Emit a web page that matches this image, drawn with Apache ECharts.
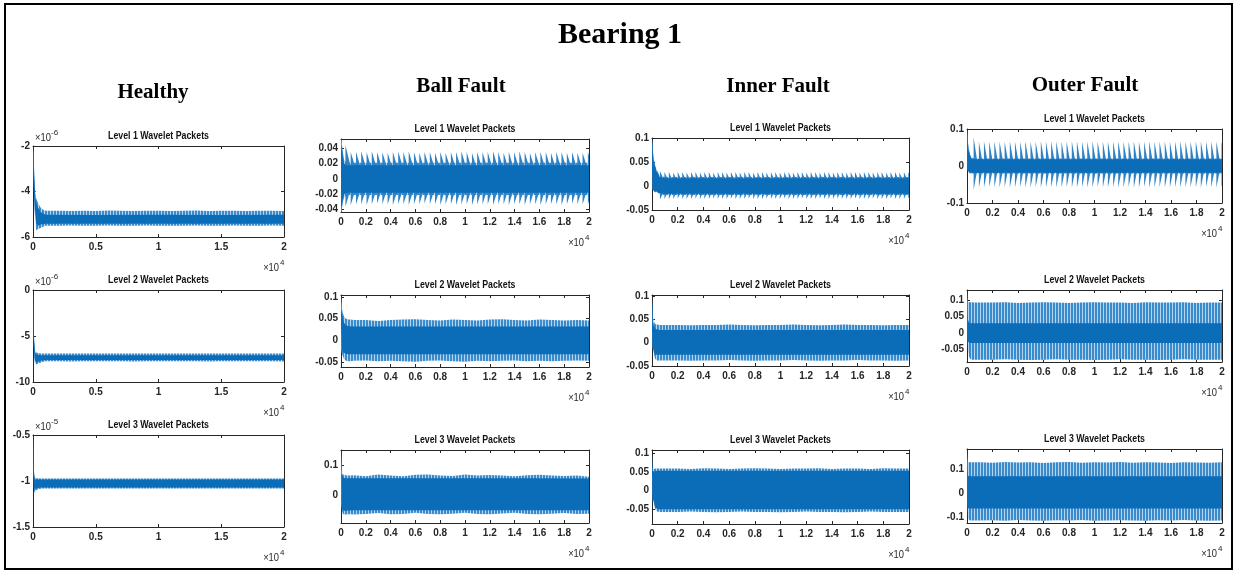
<!DOCTYPE html>
<html>
<head>
<meta charset="utf-8">
<script src="https://cdn.jsdelivr.net/npm/echarts@6/dist/echarts.min.js"></script>
<style>
  html, body { margin: 0; padding: 0; background: #fff; }
  #chart { width: 1237px; height: 574px; }
</style>
</head>
<body>
<div id="chart"></div>
<script>
// ---- sample positions (x in units of 10^4 samples) ----
const xsFringe = [0, 0.004, 0.008, 0.015, 0.025, 0.04, 0.06, 0.08, 0.1, 0.2, 0.3, 0.4, 0.5, 0.6, 0.7, 0.8, 0.9, 1, 1.1, 1.2, 1.3, 1.4, 1.5, 1.6, 1.7, 1.8, 1.9, 2];
const xsCore = [0, 0.004, 0.008, 0.015, 0.025, 0.04, 0.06, 0.1, 0.5, 1, 1.5, 2];

// ---- tick values ----
const xTicksHealthy = [0, 0.5, 1, 1.5, 2];
const xTicksFault = [0, 0.2, 0.4, 0.6, 0.8, 1, 1.2, 1.4, 1.6, 1.8, 2];

// ---- Healthy (y in units of 10^-6 / 10^-5) ----
const healthy1FringeHi = [-2.05,-2.3,-2.9,-3.8,-4.3,-4.5,-4.7,-4.8,-4.85,-4.85,-4.86,-4.85,-4.86,-4.84,-4.85,-4.86,-4.85,-4.85,-4.86,-4.85,-4.84,-4.86,-4.85,-4.85,-4.86,-4.85,-4.85,-4.86];
const healthy1FringeLo = [-2.3,-3.2,-4.2,-5.0,-5.7,-5.65,-5.6,-5.55,-5.5,-5.5,-5.49,-5.5,-5.5,-5.49,-5.5,-5.5,-5.49,-5.5,-5.5,-5.5,-5.49,-5.5,-5.5,-5.49,-5.5,-5.5,-5.49,-5.5];
const healthy1CoreHi = [-2.1,-2.5,-3.2,-4.0,-4.5,-4.7,-4.9,-5.02,-5.03,-5.02,-5.03,-5.02];
const healthy1CoreLo = [-2.2,-3.0,-4.0,-4.8,-5.4,-5.5,-5.45,-5.42,-5.42,-5.42,-5.42,-5.42];

const healthy2FringeHi = [0,-2.5,-5.0,-6.5,-6.8,-6.85,-6.9,-6.9,-6.9,-6.9,-6.91,-6.9,-6.9,-6.89,-6.9,-6.9,-6.91,-6.9,-6.9,-6.9,-6.89,-6.9,-6.9,-6.91,-6.9,-6.9,-6.9,-6.89];
const healthy2FringeLo = [-1.0,-4.5,-6.8,-7.9,-8.1,-8.0,-7.9,-7.8,-7.75,-7.75,-7.76,-7.75,-7.75,-7.74,-7.75,-7.76,-7.75,-7.75,-7.74,-7.75,-7.75,-7.76,-7.75,-7.75,-7.74,-7.75,-7.75,-7.76];
const healthy2CoreHi = [-0.3,-3.0,-5.5,-6.7,-7.0,-7.05,-7.1,-7.1,-7.1,-7.1,-7.1,-7.1];
const healthy2CoreLo = [-0.8,-4.0,-6.5,-7.6,-7.9,-7.8,-7.7,-7.62,-7.6,-7.6,-7.6,-7.6];

const healthy3FringeHi = [-0.5,-0.7,-0.9,-0.96,-0.97,-0.97,-0.972,-0.972,-0.972,-0.972,-0.973,-0.972,-0.972,-0.973,-0.972,-0.972,-0.972,-0.973,-0.972,-0.972,-0.973,-0.972,-0.972,-0.972,-0.973,-0.972,-0.972,-0.973];
const healthy3FringeLo = [-0.6,-0.9,-1.1,-1.13,-1.1,-1.09,-1.085,-1.082,-1.082,-1.082,-1.081,-1.082,-1.082,-1.081,-1.082,-1.082,-1.082,-1.081,-1.082,-1.082,-1.081,-1.082,-1.082,-1.082,-1.081,-1.082,-1.082,-1.081];
const healthy3CoreHi = [-0.52,-0.75,-0.95,-0.98,-0.985,-0.985,-0.985,-0.985,-0.985,-0.985,-0.985,-0.985];
const healthy3CoreLo = [-0.58,-0.85,-1.05,-1.1,-1.08,-1.075,-1.07,-1.07,-1.07,-1.07,-1.07,-1.07];

// ---- Ball Fault ----
const ball1FringeHi = [0.052,0.05,0.045,0.035,0.025,0.022,0.021,0.021,0.021,0.021,0.021,0.021,0.021,0.021,0.021,0.021,0.021,0.021,0.021,0.021,0.021,0.021,0.021,0.021,0.021,0.021,0.021,0.021];
const ball1FringeLo = [-0.043,-0.042,-0.038,-0.03,-0.024,-0.022,-0.021,-0.021,-0.021,-0.021,-0.021,-0.021,-0.021,-0.021,-0.021,-0.021,-0.021,-0.021,-0.021,-0.021,-0.021,-0.021,-0.021,-0.021,-0.021,-0.021,-0.021,-0.021];
const ball1CoreHi = [0.05,0.045,0.038,0.027,0.02,0.018,0.018,0.018,0.018,0.018,0.018,0.018];
const ball1CoreLo = [-0.042,-0.04,-0.034,-0.025,-0.02,-0.018,-0.018,-0.018,-0.018,-0.018,-0.018,-0.018];
// impulses: [position, peak, trough]
const ball1Spikes = [[0.036,0.044,-0.036],[0.078,0.035,-0.034],[0.121,0.035,-0.033],[0.163,0.036,-0.033],[0.206,0.035,-0.034],[0.248,0.036,-0.033],[0.291,0.035,-0.032],[0.333,0.035,-0.033],[0.376,0.034,-0.033],[0.418,0.035,-0.034],[0.461,0.036,-0.033],[0.503,0.035,-0.033],[0.546,0.036,-0.034],[0.588,0.035,-0.033],[0.631,0.034,-0.033],[0.673,0.035,-0.032],[0.716,0.035,-0.033],[0.758,0.034,-0.033],[0.801,0.035,-0.034],[0.843,0.034,-0.033],[0.886,0.035,-0.033],[0.928,0.035,-0.034],[0.971,0.036,-0.033],[1.013,0.035,-0.033],[1.056,0.034,-0.034],[1.098,0.035,-0.033],[1.141,0.035,-0.033],[1.183,0.035,-0.033],[1.226,0.036,-0.034],[1.268,0.035,-0.033],[1.311,0.034,-0.033],[1.353,0.035,-0.034],[1.396,0.035,-0.033],[1.438,0.036,-0.033],[1.481,0.035,-0.034],[1.523,0.034,-0.033],[1.566,0.035,-0.033],[1.608,0.035,-0.034],[1.651,0.035,-0.033],[1.693,0.034,-0.033],[1.736,0.035,-0.033],[1.778,0.035,-0.034],[1.821,0.034,-0.033],[1.863,0.035,-0.032],[1.906,0.034,-0.033],[1.948,0.034,-0.033],[1.991,0.035,-0.033]];

const ball2FringeHi = [0.1,0.085,0.072,0.062,0.055,0.05,0.048,0.048,0.047,0.047,0.045,0.047,0.048,0.049,0.047,0.046,0.048,0.047,0.046,0.048,0.049,0.047,0.046,0.048,0.047,0.046,0.047,0.046];
const ball2FringeLo = [0.02,-0.02,-0.03,-0.035,-0.042,-0.046,-0.047,-0.047,-0.046,-0.045,-0.047,-0.046,-0.047,-0.048,-0.046,-0.045,-0.047,-0.048,-0.046,-0.047,-0.046,-0.045,-0.047,-0.046,-0.047,-0.046,-0.045,-0.046];
const ball2CoreHi = [0.095,0.075,0.062,0.05,0.04,0.035,0.033,0.032,0.032,0.032,0.032,0.032];
const ball2CoreLo = [0.03,-0.01,-0.02,-0.025,-0.028,-0.03,-0.031,-0.031,-0.031,-0.031,-0.031,-0.031];

const ball3FringeHi = [0.154,0.09,0.075,0.07,0.068,0.067,0.066,0.066,0.067,0.064,0.07,0.066,0.064,0.069,0.07,0.066,0.065,0.07,0.066,0.068,0.066,0.064,0.067,0.069,0.066,0.065,0.066,0.062];
const ball3FringeLo = [0.1,-0.03,-0.055,-0.065,-0.068,-0.068,-0.067,-0.067,-0.068,-0.066,-0.063,-0.067,-0.066,-0.062,-0.066,-0.067,-0.065,-0.062,-0.066,-0.067,-0.064,-0.062,-0.066,-0.067,-0.065,-0.063,-0.066,-0.065];
const ball3CoreHi = [0.14,0.08,0.065,0.06,0.058,0.057,0.057,0.057,0.057,0.057,0.057,0.056];
const ball3CoreLo = [0.11,-0.02,-0.045,-0.053,-0.055,-0.055,-0.054,-0.053,-0.053,-0.053,-0.053,-0.053];

// ---- Inner Fault ----
const inner1FringeHi = [0.1,0.088,0.075,0.055,0.042,0.032,0.022,0.02,0.019,0.019,0.019,0.019,0.019,0.019,0.019,0.019,0.019,0.019,0.019,0.019,0.019,0.019,0.019,0.019,0.019,0.019,0.019,0.019];
const inner1FringeLo = [0.05,-0.005,-0.01,-0.012,-0.013,-0.013,-0.017,-0.019,-0.019,-0.019,-0.019,-0.019,-0.019,-0.019,-0.019,-0.019,-0.019,-0.019,-0.019,-0.019,-0.019,-0.019,-0.019,-0.019,-0.019,-0.019,-0.019,-0.019];
const inner1CoreHi = [0.09,0.08,0.068,0.05,0.038,0.028,0.018,0.016,0.016,0.016,0.016,0.016];
const inner1CoreLo = [0.06,-0.003,-0.008,-0.01,-0.011,-0.012,-0.015,-0.016,-0.016,-0.016,-0.016,-0.016];
const inner1Spikes = [[0.062,0.031,-0.028],[0.097,0.029,-0.027],[0.131,0.029,-0.027],[0.166,0.028,-0.027],[0.2,0.029,-0.026],[0.235,0.029,-0.027],[0.269,0.028,-0.027],[0.304,0.029,-0.027],[0.338,0.029,-0.026],[0.373,0.028,-0.027],[0.407,0.029,-0.027],[0.442,0.029,-0.027],[0.476,0.028,-0.026],[0.511,0.029,-0.027],[0.545,0.029,-0.027],[0.58,0.028,-0.027],[0.614,0.029,-0.026],[0.649,0.029,-0.027],[0.683,0.028,-0.027],[0.718,0.029,-0.027],[0.752,0.029,-0.026],[0.787,0.028,-0.027],[0.821,0.029,-0.027],[0.856,0.029,-0.027],[0.89,0.028,-0.026],[0.925,0.029,-0.027],[0.959,0.029,-0.027],[0.994,0.028,-0.027],[1.028,0.029,-0.026],[1.063,0.029,-0.027],[1.097,0.028,-0.027],[1.132,0.029,-0.027],[1.166,0.029,-0.026],[1.201,0.028,-0.027],[1.235,0.029,-0.027],[1.27,0.029,-0.027],[1.304,0.028,-0.026],[1.339,0.029,-0.027],[1.373,0.029,-0.027],[1.408,0.028,-0.027],[1.442,0.029,-0.026],[1.477,0.029,-0.027],[1.511,0.028,-0.027],[1.546,0.029,-0.027],[1.58,0.029,-0.026],[1.615,0.028,-0.027],[1.649,0.029,-0.027],[1.684,0.029,-0.027],[1.718,0.028,-0.026],[1.753,0.029,-0.027],[1.787,0.029,-0.027],[1.822,0.028,-0.027],[1.856,0.029,-0.026],[1.891,0.029,-0.027],[1.925,0.028,-0.027],[1.96,0.029,-0.027],[1.994,0.029,-0.026]];

const inner2FringeHi = [0.1,0.07,0.055,0.045,0.04,0.039,0.038,0.038,0.038,0.038,0.037,0.038,0.038,0.039,0.038,0.037,0.038,0.038,0.039,0.038,0.037,0.038,0.039,0.038,0.038,0.037,0.038,0.038];
const inner2FringeLo = [0.02,-0.01,-0.016,-0.025,-0.035,-0.038,-0.038,-0.038,-0.038,-0.038,-0.039,-0.038,-0.038,-0.037,-0.038,-0.039,-0.038,-0.038,-0.037,-0.038,-0.039,-0.038,-0.038,-0.037,-0.038,-0.038,-0.039,-0.038];
const inner2CoreHi = [0.09,0.06,0.045,0.035,0.03,0.028,0.027,0.027,0.027,0.027,0.027,0.027];
const inner2CoreLo = [0.03,-0.005,-0.012,-0.02,-0.026,-0.026,-0.026,-0.026,-0.026,-0.026,-0.026,-0.026];

const inner3FringeHi = [0.1,0.06,0.058,0.058,0.059,0.059,0.059,0.059,0.059,0.059,0.058,0.06,0.059,0.058,0.059,0.06,0.059,0.058,0.059,0.059,0.06,0.058,0.059,0.059,0.058,0.06,0.059,0.059];
const inner3FringeLo = [0.04,-0.025,-0.03,-0.035,-0.05,-0.057,-0.058,-0.058,-0.058,-0.058,-0.057,-0.058,-0.059,-0.058,-0.057,-0.058,-0.058,-0.059,-0.058,-0.057,-0.058,-0.058,-0.059,-0.058,-0.057,-0.058,-0.058,-0.058];
const inner3CoreHi = [0.09,0.055,0.052,0.052,0.052,0.053,0.053,0.053,0.053,0.053,0.053,0.053];
const inner3CoreLo = [0.05,-0.02,-0.025,-0.03,-0.045,-0.05,-0.051,-0.051,-0.051,-0.051,-0.051,-0.051];

// ---- Outer Fault ----
const outer1FringeHi = [0.1,0.085,0.065,0.045,0.03,0.022,0.02,0.02,0.02,0.02,0.02,0.02,0.02,0.02,0.02,0.02,0.02,0.02,0.02,0.02,0.02,0.02,0.02,0.02,0.02,0.02,0.02,0.02];
const outer1FringeLo = [0.02,-0.01,-0.015,-0.018,-0.02,-0.02,-0.02,-0.02,-0.02,-0.02,-0.02,-0.02,-0.02,-0.02,-0.02,-0.02,-0.02,-0.02,-0.02,-0.02,-0.02,-0.02,-0.02,-0.02,-0.02,-0.02,-0.02,-0.02];
const outer1CoreHi = [0.095,0.08,0.06,0.04,0.025,0.018,0.018,0.018,0.018,0.018,0.018,0.018];
const outer1CoreLo = [0.03,-0.008,-0.013,-0.016,-0.018,-0.018,-0.018,-0.018,-0.018,-0.018,-0.018,-0.018];
const outer1Spikes = [[0.052,0.077,-0.064],[0.093,0.066,-0.058],[0.133,0.067,-0.058],[0.174,0.066,-0.057],[0.214,0.067,-0.058],[0.255,0.066,-0.058],[0.295,0.066,-0.057],[0.336,0.067,-0.058],[0.376,0.066,-0.058],[0.417,0.066,-0.057],[0.457,0.067,-0.058],[0.498,0.066,-0.058],[0.538,0.066,-0.057],[0.579,0.067,-0.058],[0.619,0.066,-0.058],[0.66,0.066,-0.057],[0.7,0.067,-0.058],[0.741,0.066,-0.058],[0.781,0.066,-0.057],[0.822,0.067,-0.058],[0.862,0.066,-0.058],[0.903,0.066,-0.057],[0.943,0.067,-0.058],[0.984,0.066,-0.058],[1.024,0.066,-0.057],[1.065,0.067,-0.058],[1.105,0.066,-0.058],[1.146,0.066,-0.057],[1.186,0.067,-0.058],[1.227,0.066,-0.058],[1.267,0.066,-0.057],[1.308,0.067,-0.058],[1.348,0.066,-0.058],[1.389,0.066,-0.057],[1.429,0.067,-0.058],[1.47,0.066,-0.058],[1.51,0.066,-0.057],[1.551,0.067,-0.058],[1.591,0.066,-0.058],[1.632,0.066,-0.057],[1.672,0.067,-0.058],[1.713,0.066,-0.058],[1.753,0.066,-0.057],[1.794,0.067,-0.058],[1.834,0.066,-0.058],[1.875,0.066,-0.057],[1.915,0.067,-0.058],[1.956,0.066,-0.058],[1.996,0.066,-0.057]];

const outer2FringeHi = [0.13,0.1,0.095,0.093,0.093,0.093,0.092,0.092,0.092,0.092,0.093,0.091,0.092,0.093,0.092,0.091,0.092,0.093,0.092,0.092,0.091,0.093,0.092,0.092,0.093,0.091,0.092,0.092];
const outer2FringeLo = [0.04,-0.02,-0.05,-0.07,-0.078,-0.08,-0.08,-0.08,-0.08,-0.08,-0.079,-0.08,-0.081,-0.08,-0.079,-0.08,-0.08,-0.081,-0.08,-0.079,-0.08,-0.08,-0.081,-0.08,-0.079,-0.08,-0.08,-0.08];
const outer2CoreHi = [0.12,0.06,0.04,0.032,0.03,0.03,0.03,0.03,0.03,0.03,0.03,0.03];
const outer2CoreLo = [0.05,-0.01,-0.025,-0.028,-0.03,-0.03,-0.03,-0.03,-0.03,-0.03,-0.03,-0.03];

const outer3FringeHi = [0.18,0.14,0.13,0.13,0.13,0.13,0.13,0.13,0.13,0.128,0.131,0.129,0.13,0.127,0.13,0.131,0.128,0.13,0.129,0.131,0.128,0.13,0.129,0.127,0.13,0.129,0.128,0.13];
const outer3FringeLo = [0.05,-0.05,-0.1,-0.11,-0.112,-0.112,-0.112,-0.112,-0.112,-0.111,-0.113,-0.11,-0.112,-0.113,-0.111,-0.112,-0.11,-0.113,-0.112,-0.111,-0.112,-0.113,-0.111,-0.112,-0.11,-0.112,-0.113,-0.112];
const outer3CoreHi = [0.16,0.1,0.075,0.072,0.072,0.072,0.072,0.072,0.072,0.072,0.072,0.072];
const outer3CoreLo = [0.08,-0.04,-0.06,-0.062,-0.062,-0.062,-0.062,-0.062,-0.062,-0.062,-0.062,-0.062];

// ---- layout and styling of the twelve panels ----
const panels = [
  { title: 'Level 1 Wavelet Packets', box: [33, 146, 251, 91], y: [-6, -2], yTicks: [-6, -4, -2], xTicks: xTicksHealthy, yExp: '-6',
    fringe: [healthy1FringeHi, healthy1FringeLo], core: [healthy1CoreHi, healthy1CoreLo] },
  { title: 'Level 2 Wavelet Packets', box: [33, 290, 251, 92], y: [-10, 0], yTicks: [-10, -5, 0], xTicks: xTicksHealthy, yExp: '-6',
    fringe: [healthy2FringeHi, healthy2FringeLo], core: [healthy2CoreHi, healthy2CoreLo] },
  { title: 'Level 3 Wavelet Packets', box: [33, 435, 251, 92], y: [-1.5, -0.5], yTicks: [-1.5, -1, -0.5], xTicks: xTicksHealthy, yExp: '-5',
    fringe: [healthy3FringeHi, healthy3FringeLo], core: [healthy3CoreHi, healthy3CoreLo] },

  { title: 'Level 1 Wavelet Packets', box: [341, 139, 248, 73], y: [-0.043, 0.052], yTicks: [-0.04, -0.02, 0, 0.02, 0.04], xTicks: xTicksFault,
    fringe: [ball1FringeHi, ball1FringeLo], core: [ball1CoreHi, ball1CoreLo], spikes: ball1Spikes, decay: 0.066 },
  { title: 'Level 2 Wavelet Packets', box: [341, 295, 248, 72], y: [-0.06, 0.104], yTicks: [-0.05, 0, 0.05, 0.1], xTicks: xTicksFault,
    fringe: [ball2FringeHi, ball2FringeLo], core: [ball2CoreHi, ball2CoreLo] },
  { title: 'Level 3 Wavelet Packets', box: [341, 450, 248, 73], y: [-0.097, 0.154], yTicks: [-0.1, 0, 0.1], xTicks: xTicksFault,
    fringe: [ball3FringeHi, ball3FringeLo], core: [ball3CoreHi, ball3CoreLo] },

  { title: 'Level 1 Wavelet Packets', box: [652, 138, 257, 72], y: [-0.05, 0.1], yTicks: [-0.05, 0, 0.05, 0.1], xTicks: xTicksFault,
    fringe: [inner1FringeHi, inner1FringeLo], core: [inner1CoreHi, inner1CoreLo], spikes: inner1Spikes, decay: 0.05 },
  { title: 'Level 2 Wavelet Packets', box: [652, 295, 257, 71], y: [-0.05, 0.102], yTicks: [-0.05, 0, 0.05, 0.1], xTicks: xTicksFault,
    fringe: [inner2FringeHi, inner2FringeLo], core: [inner2CoreHi, inner2CoreLo] },
  { title: 'Level 3 Wavelet Packets', box: [652, 450, 257, 74], y: [-0.0905, 0.109], yTicks: [-0.05, 0, 0.05, 0.1], xTicks: xTicksFault,
    fringe: [inner3FringeHi, inner3FringeLo], core: [inner3CoreHi, inner3CoreLo] },

  { title: 'Level 1 Wavelet Packets', box: [967, 129, 255, 74], y: [-0.1, 0.1], yTicks: [-0.1, 0, 0.1], xTicks: xTicksFault,
    fringe: [outer1FringeHi, outer1FringeLo], core: [outer1CoreHi, outer1CoreLo], spikes: outer1Spikes, decay: 0.034 },
  { title: 'Level 2 Wavelet Packets', box: [967, 290, 255, 72], y: [-0.087, 0.13], yTicks: [-0.05, 0, 0.05, 0.1], xTicks: xTicksFault,
    fringe: [outer2FringeHi, outer2FringeLo], core: [outer2CoreHi, outer2CoreLo] },
  { title: 'Level 3 Wavelet Packets', box: [967, 449, 255, 74], y: [-0.122, 0.185], yTicks: [-0.1, 0, 0.1], xTicks: xTicksFault,
    fringe: [outer3FringeHi, outer3FringeLo], core: [outer3CoreHi, outer3CoreLo] }
];

const columnHeads = [
  { text: 'Healthy', x: 153, y: 93 },
  { text: 'Ball Fault', x: 461, y: 87 },
  { text: 'Inner Fault', x: 778, y: 87 },
  { text: 'Outer Fault', x: 1085, y: 86 }
];

const AXIS_COLOR = '#262626';
const CORE_COLOR = '#0b6cb7';
const SPIKE_COLOR = '#2f82c6';
const SANS = '"Liberation Sans", Arial, sans-serif';
const SERIF = '"Liberation Serif", "Times New Roman", "DejaVu Serif", serif';

// thin vertical strands of the oscillating trace, with slivers of background between them
function strandPattern(line, gap) {
  const c = document.createElement('canvas');
  c.width = 3; c.height = 1;
  const g = c.getContext('2d');
  g.fillStyle = line; g.fillRect(0, 0, 2, 1);
  g.fillStyle = gap; g.fillRect(2, 0, 1, 1);
  return { image: c, repeat: 'repeat' };
}
const FRINGE_FILL = strandPattern('#3a8bcc', '#b3d3ee');

const fmt = v => String(+v.toFixed(3));

const grids = [], xAxes = [], yAxes = [], series = [], graphics = [];

function axisCommon(ticks) {
  return {
    axisLine: { show: true, onZero: false, lineStyle: { color: AXIS_COLOR, width: 1 } },
    axisTick: { show: true, inside: true, length: 3, customValues: ticks, lineStyle: { color: AXIS_COLOR, width: 1 } },
    splitLine: { show: false }
  };
}

// filled envelope between hi and lo, drawn as one polygon
function bandSeries(i, xs, hi, lo, fill, z) {
  return {
    type: 'custom', xAxisIndex: 2 * i, yAxisIndex: 2 * i, z: z, silent: true,
    data: xs.map((x, k) => [x, hi[k], lo[k]]),
    renderItem(params, api) {
      if (params.dataIndexInside !== 0) return null;
      const n = params.dataInsideLength;
      const top = [], bot = [];
      for (let k = 0; k < n; k++) {
        const x = api.value(0, k);
        top.push(api.coord([x, api.value(1, k)]));
        bot.push(api.coord([x, api.value(2, k)]));
      }
      return { type: 'polygon', shape: { points: top.concat(bot.reverse()) }, style: { fill: fill } };
    }
  };
}

// periodic impulses: sharp rise at the impulse, linear decay afterwards
function spikeSeries(i, spikes, decay, xMax, color, z) {
  return {
    type: 'custom', xAxisIndex: 2 * i, yAxisIndex: 2 * i, z: z, silent: true,
    data: spikes,
    renderItem(params, api) {
      const x = api.value(0), t = api.value(1), b = api.value(2);
      const xe = Math.min(x + decay, xMax);
      const f = 1 - (xe - x) / decay;
      const up = [api.coord([x, 0]), api.coord([x, t]), api.coord([xe, t * f]), api.coord([xe, 0])];
      const dn = [api.coord([x, 0]), api.coord([x, b]), api.coord([xe, b * f]), api.coord([xe, 0])];
      return {
        type: 'group',
        children: [
          { type: 'polygon', shape: { points: up }, style: { fill: color } },
          { type: 'polygon', shape: { points: dn }, style: { fill: color } }
        ]
      };
    }
  };
}

function label(x, y, text, font, align, scaleX) {
  return { type: 'text', x: x, y: y, scaleX: scaleX || 1, silent: true,
    style: { text: text, font: font, fill: AXIS_COLOR, align: align, verticalAlign: 'middle',
      textAlign: align, textVerticalAlign: 'middle' } };
}

panels.forEach((p, i) => {
  const [left, top, width, height] = p.box;
  grids.push({ left: left, top: top, width: width, height: height, show: false });

  const labelStyle = { color: AXIS_COLOR, fontSize: 10, fontWeight: 'bold', fontFamily: SANS };
  xAxes.push(Object.assign({
    type: 'value', gridIndex: i, position: 'bottom', min: 0, max: 2,
    axisLabel: Object.assign({ show: true, customValues: p.xTicks, formatter: fmt, margin: 5 }, labelStyle)
  }, axisCommon(p.xTicks)));
  xAxes.push(Object.assign({
    type: 'value', gridIndex: i, position: 'top', min: 0, max: 2, axisLabel: { show: false }
  }, axisCommon(p.xTicks)));

  yAxes.push(Object.assign({
    type: 'value', gridIndex: i, position: 'left', min: p.y[0], max: p.y[1],
    axisLabel: Object.assign({ show: true, customValues: p.yTicks, formatter: fmt, margin: 3 }, labelStyle)
  }, axisCommon(p.yTicks)));
  yAxes.push(Object.assign({
    type: 'value', gridIndex: i, position: 'right', min: p.y[0], max: p.y[1], axisLabel: { show: false }
  }, axisCommon(p.yTicks)));

  series.push(bandSeries(i, xsFringe, p.fringe[0], p.fringe[1], FRINGE_FILL, 2));
  if (p.spikes) series.push(spikeSeries(i, p.spikes, p.decay, 2, SPIKE_COLOR, 3));
  series.push(bandSeries(i, xsCore, p.core[0], p.core[1], CORE_COLOR, 4));

  // panel title
  const t = label(left + width / 2, top - 10, p.title, 'bold 11px ' + SANS, 'center', 0.8);
  t.style.fill = '#111';
  graphics.push(t);
  // x-axis multiplier
  graphics.push(label(left + width - 5, top + height + 31, '\u00d710', '11px ' + SANS, 'right', 0.85));
  graphics.push(label(left + width - 4, top + height + 26, '4', '8px ' + SANS, 'left'));
  // y-axis multiplier
  if (p.yExp) {
    graphics.push(label(left + 2, top - 8, '\u00d710', '11px ' + SANS, 'left', 0.85));
    graphics.push(label(left + 18, top - 13, p.yExp, '8px ' + SANS, 'left'));
  }
});

// main title and column headings
graphics.push({ type: 'text', x: 620, y: 35, silent: true,
  style: { text: 'Bearing 1', font: 'bold 30px ' + SERIF, fill: '#000', align: 'center', verticalAlign: 'middle',
    textAlign: 'center', textVerticalAlign: 'middle' } });
columnHeads.forEach(h => graphics.push({ type: 'text', x: h.x, y: h.y, silent: true,
  style: { text: h.text, font: 'bold 21px ' + SERIF, fill: '#000', align: 'center', verticalAlign: 'middle',
    textAlign: 'center', textVerticalAlign: 'middle' } }));

// outer frame
graphics.push({ type: 'rect', silent: true, shape: { x: 5, y: 4, width: 1227, height: 565 },
  style: { fill: 'none', stroke: '#000', lineWidth: 2 } });

const chart = echarts.init(document.getElementById('chart'));
chart.setOption({
  animation: false,
  backgroundColor: '#fff',
  grid: grids,
  xAxis: xAxes,
  yAxis: yAxes,
  series: series,
  graphic: graphics
});
</script>
</body>
</html>
